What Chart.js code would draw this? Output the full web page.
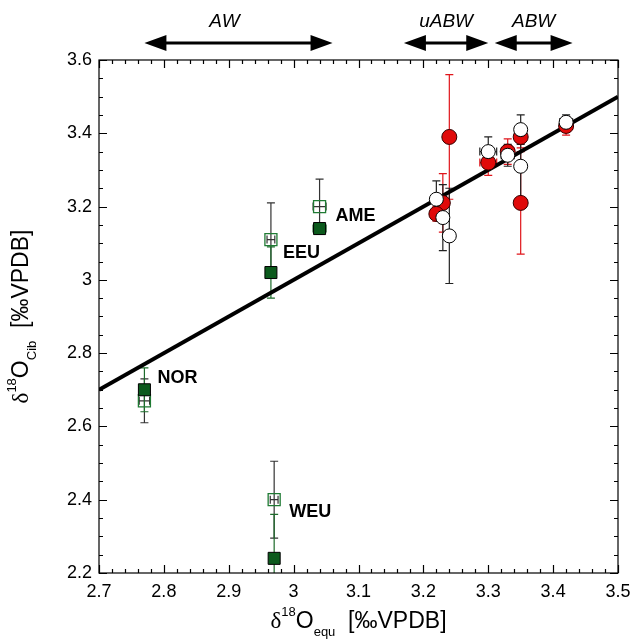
<!DOCTYPE html>
<html>
<head>
<meta charset="utf-8">
<script src="https://cdn.jsdelivr.net/npm/chart.js@4.4.1/dist/chart.umd.min.js"></script>
<style>
  html, body { margin: 0; padding: 0; background: #fff; }
</style>
</head>
<body>
<canvas id="chart" width="630" height="639"></canvas>
<script>
// red circles (filled) and open circles
const redX = [3.24, 3.23, 3.22, 3.30, 3.33, 3.35, 3.35, 3.42];
const redY = [3.39, 3.21, 3.18, 3.32, 3.35, 3.39, 3.21, 3.42];
const redErrY = [0.17, 0.08, 0.02, 0.035, 0.035, 0.03, 0.14, 0.025];
const redErrX = [0, 0, 0, 0.013, 0.01, 0, 0, 0.01];

const openCircX = [3.24, 3.23, 3.22, 3.30, 3.33, 3.35, 3.35, 3.42];
const openCircY = [3.12, 3.17, 3.22, 3.35, 3.34, 3.41, 3.31, 3.43];
const openCircErrY = [0.13, 0.09, 0.05, 0.04, 0.03, 0.04, 0.10, 0.02];
const openCircErrX = [0, 0.01, 0, 0.013, 0.01, 0, 0, 0.01];

// squares per region
const regions = ['NOR', 'EEU', 'AME', 'WEU'];
const sqX = [2.77, 2.965, 3.04, 2.97];
const fillSqY = [2.70, 3.02, 3.14, 2.24];
const fillSqErrY = [0.06, 0.07, 0.01, 0.12];
const fillSqErrX = [0.005, 0, 0.01, 0];
const openSqY = [2.67, 3.11, 3.20, 2.40];
const openSqErrY = [0.06, 0.10, 0.075, 0.105];
const openSqErrX = [0.008, 0.006, 0.01, 0.006];

// 1:1 line
const fitX = [2.7, 3.5];
const fitY = [2.7, 3.5];

// water mass ranges drawn as arrows above the plot
const waterMasses = ['AW', 'uABW', 'ABW'];
const massFrom = [2.77, 3.17, 3.31];
const massTo = [3.06, 3.30, 3.43];

const toPts = (xs, ys) => xs.map((x, i) => ({ x: x, y: ys[i] }));
const fmtTick = v => String(+v.toFixed(2));

// error bars (drawn before the markers)
const errorBars = {
    id: 'errorBars',
    beforeDatasetsDraw(chart) {
        const ctx = chart.ctx;
        const xs = chart.scales.x, ys = chart.scales.y;
        const a = chart.chartArea;
        ctx.save();
        ctx.beginPath();
        ctx.rect(a.left, a.top, a.right - a.left, a.bottom - a.top);
        ctx.clip();
        chart.data.datasets.forEach(ds => {
            if (!ds.errY) return;
            ctx.strokeStyle = ds.errColor;
            ctx.lineWidth = 1.2;
            ds.data.forEach((p, i) => {
                const px = xs.getPixelForValue(p.x);
                const py = ys.getPixelForValue(p.y);
                const ey = ds.errY[i], ex = ds.errX[i];
                if (ey) {
                    const t = ys.getPixelForValue(p.y + ey);
                    const b = ys.getPixelForValue(p.y - ey);
                    ctx.beginPath();
                    ctx.moveTo(px, t); ctx.lineTo(px, b);
                    ctx.moveTo(px - 4, t); ctx.lineTo(px + 4, t);
                    ctx.moveTo(px - 4, b); ctx.lineTo(px + 4, b);
                    ctx.stroke();
                }
                if (ex) {
                    const l = xs.getPixelForValue(p.x - ex);
                    const r = xs.getPixelForValue(p.x + ex);
                    ctx.beginPath();
                    ctx.moveTo(l, py); ctx.lineTo(r, py);
                    ctx.moveTo(l, py - 4); ctx.lineTo(l, py + 4);
                    ctx.moveTo(r, py - 4); ctx.lineTo(r, py + 4);
                    ctx.stroke();
                }
            });
        });
        ctx.restore();
    }
};

// frame with inward ticks, arrows, labels and axis titles
const decorations = {
    id: 'decorations',
    afterDraw(chart) {
        const ctx = chart.ctx;
        const xs = chart.scales.x, ys = chart.scales.y;
        const a = chart.chartArea;
        ctx.save();
        ctx.strokeStyle = '#000';
        ctx.lineWidth = 1.2;
        ctx.strokeRect(a.left, a.top, a.right - a.left, a.bottom - a.top);

        ctx.beginPath();
        for (let i = 0; i <= 40; i++) {
            const px = Math.round(xs.getPixelForValue(2.7 + i * 0.02)) + 0.5;
            const len = i % 5 === 0 ? 8 : 4;
            ctx.moveTo(px, a.bottom); ctx.lineTo(px, a.bottom - len);
            ctx.moveTo(px, a.top); ctx.lineTo(px, a.top + len);
        }
        for (let i = 0; i <= 28; i++) {
            const py = Math.round(ys.getPixelForValue(2.2 + i * 0.05)) + 0.5;
            const len = i % 4 === 0 ? 8 : 4;
            ctx.moveTo(a.left, py); ctx.lineTo(a.left + len, py);
            ctx.moveTo(a.right, py); ctx.lineTo(a.right - len, py);
        }
        ctx.stroke();

        // water mass arrows
        ctx.fillStyle = '#000';
        ctx.lineWidth = 3;
        waterMasses.forEach((name, i) => {
            const l = xs.getPixelForValue(massFrom[i]);
            const r = xs.getPixelForValue(massTo[i]);
            const y = 43;
            ctx.beginPath();
            ctx.moveTo(l + 18, y); ctx.lineTo(r - 18, y);
            ctx.stroke();
            ctx.beginPath();
            ctx.moveTo(l, y); ctx.lineTo(l + 22, y - 8); ctx.lineTo(l + 22, y + 8); ctx.closePath();
            ctx.moveTo(r, y); ctx.lineTo(r - 22, y - 8); ctx.lineTo(r - 22, y + 8); ctx.closePath();
            ctx.fill();
            ctx.font = 'italic 19px "Liberation Sans", Arial, sans-serif';
            ctx.textAlign = 'center';
            ctx.textBaseline = 'middle';
            ctx.fillText(name, (l + r) / 2 + (i === 0 ? -14 : 0), 22);
        });

        // region labels next to the filled squares
        const offs = [[13, -12], [12, -19], [16, -13], [15, -46]];
        ctx.font = 'bold 18px "Liberation Sans", Arial, sans-serif';
        ctx.textAlign = 'left';
        ctx.textBaseline = 'middle';
        regions.forEach((name, i) => {
            const px = xs.getPixelForValue(sqX[i]);
            const py = ys.getPixelForValue(fillSqY[i]);
            ctx.fillText(name, px + offs[i][0], py + offs[i][1]);
        });

        // axis titles with super/subscripts
        const drawTitle = (sub) => {
            const parts = [
                { t: '\u03b4', f: '23px "Liberation Serif", serif', dy: 0 },
                { t: '18', f: '13px "Liberation Sans", Arial, sans-serif', dy: -12 },
                { t: 'O', f: '23px "Liberation Sans", Arial, sans-serif', dy: 0 },
                { t: sub, f: '13px "Liberation Sans", Arial, sans-serif', dy: 8 },
                { t: '  [\u2030VPDB]', f: '23px "Liberation Sans", Arial, sans-serif', dy: 0 }
            ];
            let w = 0;
            parts.forEach(p => { ctx.font = p.f; w += ctx.measureText(p.t).width; });
            let x = -w / 2;
            ctx.textAlign = 'left';
            ctx.textBaseline = 'alphabetic';
            parts.forEach(p => {
                ctx.font = p.f;
                ctx.fillText(p.t, x, p.dy);
                x += ctx.measureText(p.t).width;
            });
        };
        ctx.save();
        ctx.translate((a.left + a.right) / 2, 628);
        drawTitle('equ');
        ctx.restore();
        ctx.save();
        ctx.translate(28, (a.top + a.bottom) / 2);
        ctx.rotate(-Math.PI / 2);
        drawTitle('Cib');
        ctx.restore();

        ctx.restore();
    }
};

new Chart(document.getElementById('chart'), {
    type: 'scatter',
    data: {
        datasets: [
            {
                type: 'line',
                data: toPts(fitX, fitY),
                borderColor: '#000',
                borderWidth: 4,
                pointRadius: 0,
                order: 5
            },
            {
                data: toPts(sqX, openSqY),
                errY: openSqErrY, errX: openSqErrX, errColor: '#333',
                pointStyle: 'rect',
                pointRadius: 8.5,
                backgroundColor: 'rgba(0,0,0,0)',
                borderColor: '#1f7a33',
                borderWidth: 1.3,
                order: 4
            },
            {
                data: toPts(sqX, fillSqY),
                errY: fillSqErrY, errX: fillSqErrX, errColor: '#1d6b2b',
                pointStyle: 'rect',
                pointRadius: 8.5,
                backgroundColor: '#0b5a1c',
                borderColor: '#000',
                borderWidth: 1,
                order: 3
            },
            {
                data: toPts(redX, redY),
                errY: redErrY, errX: redErrX, errColor: '#e0151b',
                pointRadius: 7.5,
                backgroundColor: '#e00a0a',
                borderColor: '#300',
                borderWidth: 1,
                order: 2
            },
            {
                data: toPts(openCircX, openCircY),
                errY: openCircErrY, errX: openCircErrX, errColor: '#222',
                pointRadius: 7,
                backgroundColor: '#fff',
                borderColor: '#000',
                borderWidth: 1,
                order: 1
            }
        ]
    },
    options: {
        responsive: false,
        animation: false,
        layout: { padding: { left: 0, top: 60, right: 12, bottom: 0 } },
        plugins: { legend: { display: false }, tooltip: { enabled: false } },
        scales: {
            x: {
                type: 'linear',
                min: 2.7,
                max: 3.5,
                grid: { display: false, drawTicks: false },
                border: { display: false },
                ticks: {
                    stepSize: 0.1,
                    padding: 8,
                    color: '#000',
                    font: { family: '"Liberation Sans", Arial, sans-serif', size: 18 },
                    callback: fmtTick
                },
                afterFit(scale) {
                    scale.height = 66;
                    scale.paddingLeft = 0;
                    scale.paddingRight = 0;
                }
            },
            y: {
                min: 2.2,
                max: 3.6,
                grid: { display: false, drawTicks: false },
                border: { display: false },
                ticks: {
                    stepSize: 0.2,
                    padding: 7,
                    color: '#000',
                    font: { family: '"Liberation Sans", Arial, sans-serif', size: 18 },
                    callback: fmtTick
                },
                afterFit(scale) {
                    scale.width = 99;
                    scale.paddingTop = 0;
                    scale.paddingBottom = 0;
                }
            }
        }
    },
    plugins: [errorBars, decorations]
});
</script>
</body>
</html>
